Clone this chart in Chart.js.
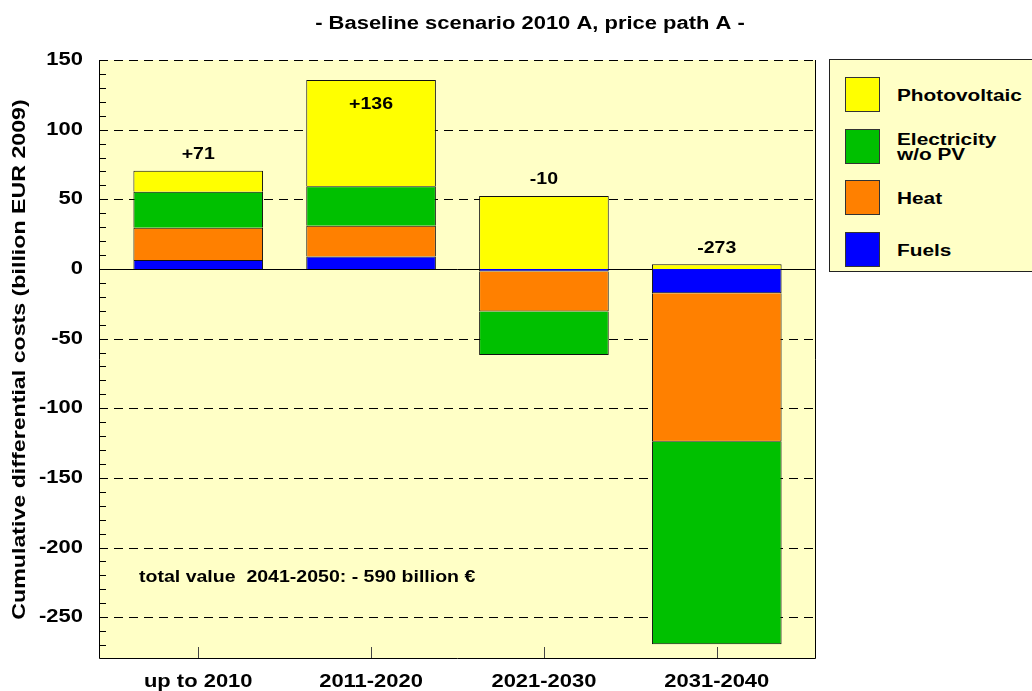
<!DOCTYPE html>
<html>
<head>
<meta charset="utf-8">
<script src="https://cdn.jsdelivr.net/npm/chart.js@4/dist/chart.umd.min.js"></script>
<style>
  body { margin: 0; background: #fff; }
  #wrap { position: relative; width: 1032px; height: 691px; }
  #legend {
    position: absolute; left: 829px; top: 59px; width: 210px; height: 213px;
    background: #FFFFC6; border: 1px solid #222; box-sizing: border-box;
    font: bold 16px "Liberation Sans", Arial, sans-serif; color: #000;
  }
  .item { position: absolute; left: 15px; height: 36px; }
  .sw { position: absolute; left: 0; top: 0; width: 35px; height: 35px; border: 1px solid #333; box-sizing: border-box; }
  .lb { position: absolute; left: 52px; top: 50%; transform: translateY(-50%) scaleX(1.3); transform-origin: left center; line-height: 15px; white-space: nowrap; }
</style>
</head>
<body>
<div id="wrap">
  <canvas id="chart"></canvas>
  <div id="legend"></div>
</div>
<script>
const categories = ['up to 2010', '2011-2020', '2021-2030', '2031-2040'];
const fuels = [6.5, 9, -1.8, -17.5];
const heat = [23, 22, -28.8, -106.5];
const electricity = [26, 28.4, -31.1, -145.4];
const photovoltaic = [15, 76.3, 52.4, 3.4];
const totals = ['+71', '+136', '-10', '-273'];
const yTicks = [150, 100, 50, 0, -50, -100, -150, -200, -250];

const FONT = '"Liberation Sans", Arial, sans-serif';
const STRETCH = 1.22; // the original text is drawn wide

// stacking order: first dataset sits next to zero
const series = [
  { label: 'Fuels', data: fuels, color: '#0000FF' },
  { label: 'Heat', data: heat, color: '#FF8000' },
  { label: 'Electricity<br>w/o PV', data: electricity, color: '#00C000' },
  { label: 'Photovoltaic', data: photovoltaic, color: '#FFFF00' },
];

// legend box (reverse order, like the original)
const legend = document.getElementById('legend');
series.slice().reverse().forEach((s, i) => {
  const d = document.createElement('div');
  d.className = 'item';
  d.style.top = (17 + i * 51.5) + 'px';
  d.innerHTML = '<div class="sw" style="background:' + s.color + '"></div><div class="lb">' + s.label + '</div>';
  legend.appendChild(d);
});

const canvas = document.getElementById('chart');
const c2d = canvas.getContext('2d');
// stretch every text horizontally around its anchor
c2d.fillText = function (t, x, y, mw) {
  this.save();
  this.translate(x, y);
  this.scale(STRETCH, 1);
  CanvasRenderingContext2D.prototype.fillText.call(this, t, 0, 0);
  this.restore();
};

const decor = {
  id: 'decor',
  beforeDraw(chart) {
    const { ctx, chartArea: a } = chart;
    ctx.save();
    ctx.fillStyle = '#FFFFC6';
    ctx.fillRect(a.left, a.top, a.right - a.left, a.bottom - a.top);
    ctx.restore();
  },
  beforeDatasetsDraw(chart) {
    const { ctx, chartArea: a, scales } = chart;
    const y = scales.y, x = scales.x;
    ctx.save();
    ctx.strokeStyle = '#000';
    ctx.lineWidth = 1;
    // minor ticks every 10, inside the plot
    for (let v = -270; v < 150; v += 10) {
      if (v % 50 === 0) continue;
      const py = Math.round(y.getPixelForValue(v)) + 0.5;
      ctx.beginPath();
      ctx.moveTo(a.left, py);
      ctx.lineTo(a.left + 7, py);
      ctx.stroke();
    }
    // dashed grid lines
    yTicks.forEach(v => {
      const py = Math.round(y.getPixelForValue(v)) + 0.5;
      ctx.setLineDash(v === 0 ? [] : [9, 6]);
      ctx.beginPath();
      ctx.moveTo(a.left, py);
      ctx.lineTo(a.right, py);
      ctx.stroke();
    });
    ctx.setLineDash([]);
    // category ticks from the bottom edge
    ctx.strokeStyle = '#444';
    categories.forEach((c, i) => {
      const px = Math.round(x.getPixelForValue(i)) + 0.5;
      ctx.beginPath();
      ctx.moveTo(px, a.bottom);
      ctx.lineTo(px, a.bottom - 12);
      ctx.stroke();
    });
    ctx.restore();
  },
  afterDatasetsDraw(chart) {
    const { ctx, chartArea: a, scales } = chart;
    const y = scales.y, x = scales.x;
    ctx.save();
    // frame: left, bottom, right solid
    ctx.strokeStyle = '#000';
    ctx.lineWidth = 1;
    ctx.beginPath();
    ctx.moveTo(a.left + 0.5, a.top);
    ctx.lineTo(a.left + 0.5, a.bottom - 0.5);
    ctx.lineTo(a.right - 0.5, a.bottom - 0.5);
    ctx.lineTo(a.right - 0.5, a.top);
    ctx.stroke();

    // totals above each stack
    ctx.fillStyle = '#000';
    ctx.font = 'bold 16px ' + FONT;
    ctx.textAlign = 'center';
    ctx.textBaseline = 'middle';
    categories.forEach((c, i) => {
      let top = 0;
      series.forEach(s => { if (s.data[i] > 0) top += s.data[i]; });
      let py = y.getPixelForValue(top) - 16;
      if (py < a.top + 30) py = y.getPixelForValue(top) + 25;
      ctx.fillText(totals[i], x.getPixelForValue(i), py);
    });

    // note
    ctx.textAlign = 'left';
    ctx.fillText('total value  2041-2050: - 590 billion \u20AC', 139, 578);

    // title
    ctx.font = 'bold 18px ' + FONT;
    ctx.textAlign = 'center';
    ctx.fillText('- Baseline scenario 2010 A, price path A -', 530, 24);
    ctx.restore();
  }
};

new Chart(canvas, {
  type: 'bar',
  data: {
    datasets: series.map(s => ({
      label: s.label,
      data: s.data.map((v, i) => ({ x: i, y: v })),
      backgroundColor: s.color,
      borderColor: '#111',
      borderWidth: 1,
      barPercentage: 0.75,
      categoryPercentage: 1,
    })),
  },
  options: {
    responsive: true,
    maintainAspectRatio: false,
    animation: false,
    layout: { padding: { left: 0, top: 60, right: 216, bottom: 0 } },
    plugins: { legend: { display: false }, tooltip: { enabled: false } },
    scales: {
      x: {
        type: 'linear',
        stacked: true,
        offset: false,
        min: -0.574,
        max: 3.574,
        afterBuildTicks: s => { s.ticks = categories.map((c, i) => ({ value: i })); },
        afterFit: s => { s.height = 32; },
        grid: { display: false, drawTicks: false },
        border: { display: false },
        ticks: {
          callback: v => categories[v],
          color: '#000',
          padding: 12,
          maxRotation: 0,
          font: { family: FONT, size: 18, weight: 'bold' },
        },
      },
      y: {
        stacked: true,
        min: -280,
        max: 150,
        afterBuildTicks: s => { s.ticks = yTicks.map(v => ({ value: v })); },
        afterFit: s => { s.width = 99; },
        grid: { display: false, drawTicks: false },
        border: { display: false },
        ticks: {
          color: '#000',
          padding: 16,
          font: { family: FONT, size: 18, weight: 'bold' },
        },
        title: {
          display: true,
          text: 'Cumulative differential costs (billion EUR 2009)',
          color: '#000',
          padding: { top: 8, bottom: 0 },
          font: { family: FONT, size: 19, weight: 'bold' },
        },
      },
    },
  },
  plugins: [decor],
});
</script>
</body>
</html>
